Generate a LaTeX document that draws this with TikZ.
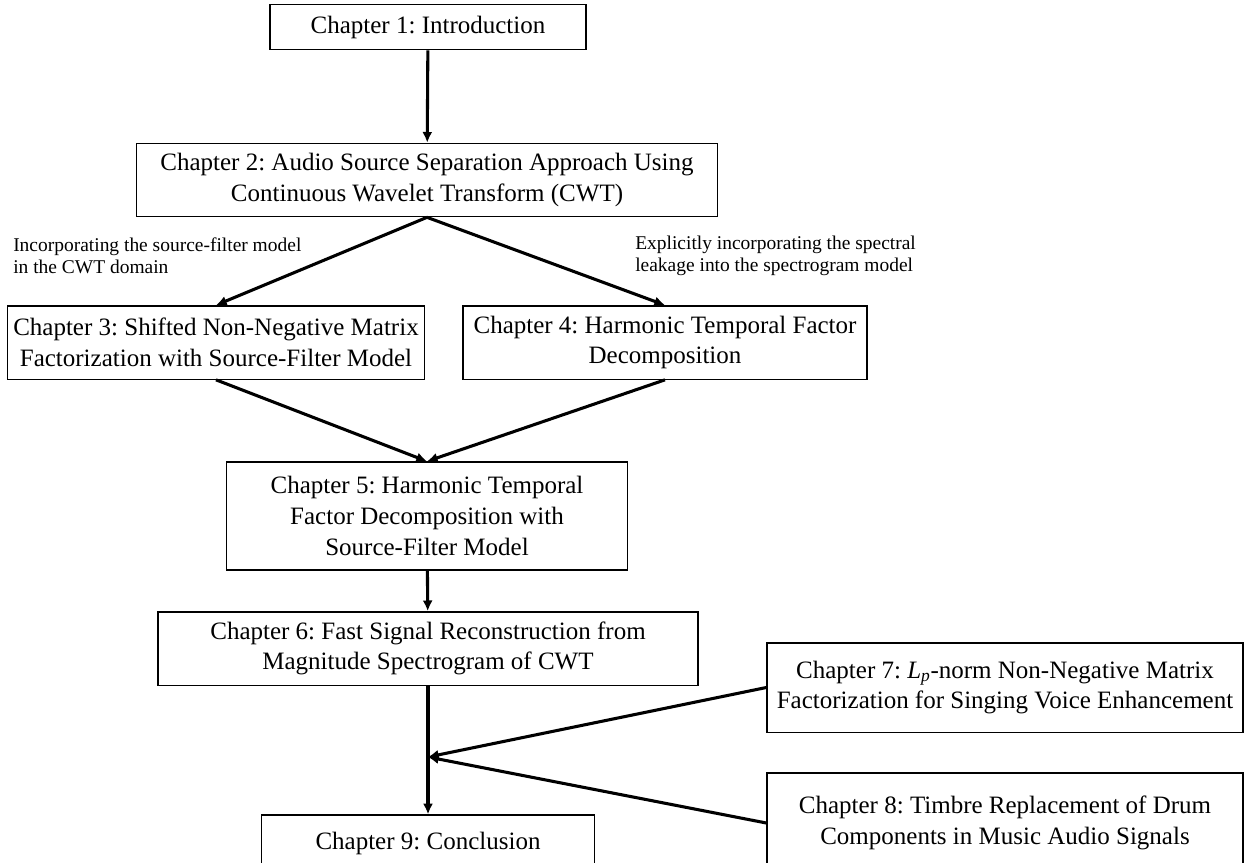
\documentclass[tikz,border=0pt]{standalone}
\usepackage{fontspec}
\setmainfont{Liberation Serif}
\usetikzlibrary{arrows.meta, positioning, calc}
\frenchspacing

\tikzset{
  chap/.style={draw, line width=1pt, align=center, inner sep=0pt,
    font=\fontsize{18.75}{23}\selectfont},
  note/.style={align=left, inner sep=0pt, anchor=west,
    font=\fontsize{14.6}{16.6}\selectfont},
  arr/.style={line width=2.3pt, -{Latex[length=8pt,width=7.5pt]}}
}

\begin{document}
\begin{tikzpicture}[x=0.75pt, y=-0.75pt]
\useasboundingbox (0,0) rectangle (1246,863);
% Chapters
\node[chap,minimum width=237pt,minimum height=34pt] (ch1) at (428,27) {Chapter 1: Introduction};
\node[chap,minimum width=436pt,minimum height=55pt] (ch2) at (427,180) {Chapter 2: Audio Source Separation Approach Using\\Continuous Wavelet Transform (CWT)};
\node[chap,minimum width=313pt,minimum height=55pt] (ch3) at (216,342.5) {Chapter 3: Shifted Non-Negative Matrix\\Factorization with Source-Filter Model};
\node[chap,minimum width=303pt,minimum height=55pt] (ch4) at (665,342.5) {Chapter 4: Harmonic Temporal Factor\\Decomposition};
\node[chap,minimum width=301pt,minimum height=81pt] (ch5) at (427,516) {Chapter 5: Harmonic Temporal\\Factor Decomposition with\\Source-Filter Model};
\node[chap,minimum width=405pt,minimum height=55pt] (ch6) at (428,648.5) {Chapter 6: Fast Signal Reconstruction from\\Magnitude Spectrogram of CWT};
\node[chap,minimum width=357pt,minimum height=67pt] (ch7) at (1005,687.5) {Chapter 7: \textit{L}\textsubscript{\textit{p}}-norm Non-Negative Matrix\\Factorization for Singing Voice Enhancement};
\node[chap,minimum width=357pt,minimum height=75pt] (ch8) at (1005,823) {Chapter 8: Timbre Replacement of Drum\\Components in Music Audio Signals};
\node[chap,minimum width=250pt,minimum height=42pt] (ch9) at (428,843) {Chapter 9: Conclusion};
% Notes
\node[note] (cwtsf) at (13,256) {Incorporating the source-filter model\\in the CWT domain};
\node[note] (leak) at (635,256) {Explicitly incorporating the spectral\\leakage into the spectrogram model};
\coordinate (join) at (428,757);
% Arrows
\draw[arr] (ch1) -- (ch2);
\draw[arr] (ch2.south) -- (ch3.north);
\draw[arr] (ch2.south) -- (ch4.north);
\draw[arr] (ch3.south) -- (ch5.north);
\draw[arr] (ch4.south) -- (ch5.north);
\draw[arr] (ch5) -- (ch6);
\draw[arr] (ch6) -- (ch9);
\draw[arr] (ch7.west) -- (join);
\draw[arr] (ch8.west) -- (join);
\end{tikzpicture}
\end{document}
